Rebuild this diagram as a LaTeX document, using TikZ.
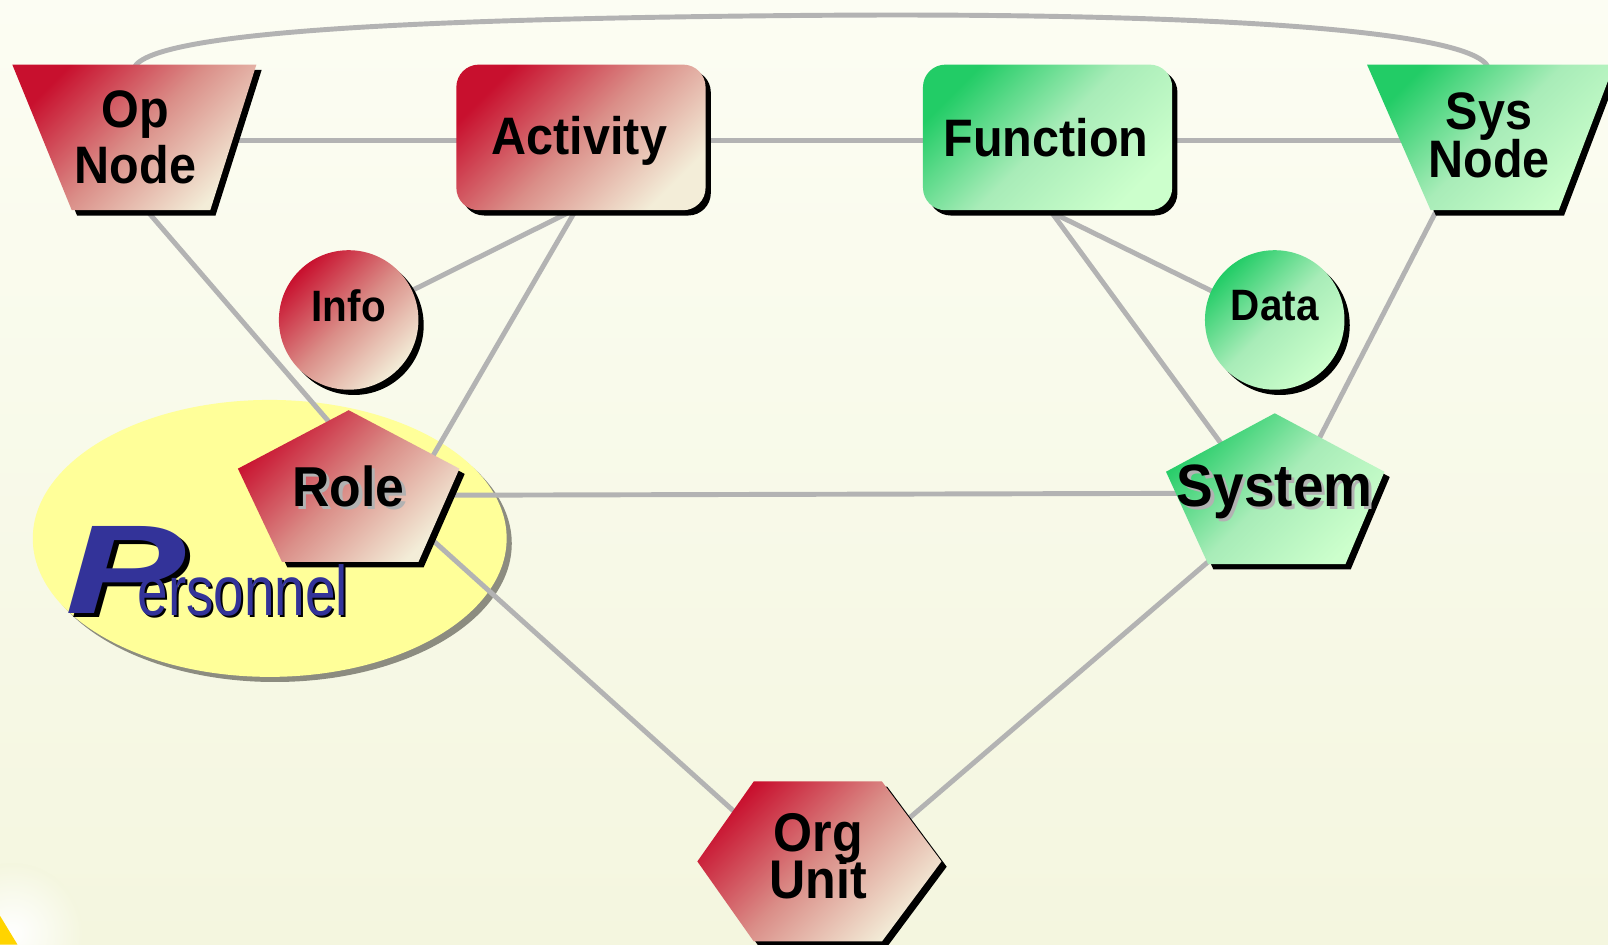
\documentclass[tikz,border=0pt]{standalone}
\usepackage{fontspec}
\setmainfont{Liberation Sans}
\newfontfamily\labfont[FakeStretch=0.92]{Liberation Sans}
\newfontfamily\persfont[FakeStretch=0.78]{Liberation Sans}
\usetikzlibrary{calc,shadows}
\pgfdeclarelayer{bg}
\pgfdeclarelayer{edges}
\pgfsetlayers{bg,edges,main}
\definecolor{bgTop}{HTML}{FCFDF3}
\definecolor{bgBot}{HTML}{F4F6DF}
\definecolor{redA}{HTML}{C8102E}
\definecolor{redB}{HTML}{DA8E88}
\definecolor{redC}{HTML}{F3EDD8}
\definecolor{grnA}{HTML}{22CC66}
\definecolor{grnB}{HTML}{A8ECB8}
\definecolor{grnC}{HTML}{CCFFCC}
\definecolor{edgegray}{HTML}{B3B3B3}
\definecolor{persyellow}{HTML}{FFFF99}
\definecolor{persshadow}{HTML}{8C8C80}
\definecolor{persblue}{HTML}{333399}
\definecolor{cornerYellow}{HTML}{FFD400}
\tikzset{
  px/.style={x=0.02051cm,y=-0.02051cm},
  edge/.style={draw=edgegray, line width=2.8pt},
  shadowed/.style={drop shadow={shadow xshift=3pt, shadow yshift=-3pt, fill=black, opacity=1}},
  redshape/.style={shadowed, top color=redA, bottom color=redC, middle color=redB, shading angle=45},
  grnshape/.style={shadowed, top color=grnA, bottom color=grnC, middle color=grnB, shading angle=45},
  lab/.style={inner sep=0pt, align=center, text=black},
  bigfont/.style={font=\labfont\bfseries\fontsize{30pt}{32pt}\selectfont},
  sysnodefont/.style={font=\labfont\bfseries\fontsize{30pt}{27.4pt}\selectfont},
  smallfont/.style={font=\labfont\bfseries\fontsize{25pt}{27pt}\selectfont},
  rolefont/.style={font=\labfont\bfseries\fontsize{32pt}{34pt}\selectfont},
  sysfont/.style={font=\labfont\bfseries\fontsize{34pt}{36pt}\selectfont},
  orgfont/.style={font=\labfont\bfseries\fontsize{31pt}{27pt}\selectfont},
  textshadow/.style={text=black!30},
  pfont/.style={font=\bfseries\itshape\fontsize{72pt}{72pt}\selectfont},
  efont/.style={font=\persfont\fontsize{40pt}{40pt}\selectfont},
}
\begin{document}
\lineskiplimit=-100pt\relax
\begin{tikzpicture}[px]
\useasboundingbox (0,0) rectangle (1568,921);
\begin{pgfonlayer}{bg}
  \shade[top color=bgTop,bottom color=bgBot] (0,0) rectangle (1568,921);
  \shade[inner color=white, outer color=bgBot] (12,910) circle [radius=1.4cm];
  \fill[cornerYellow] (0,893) -- (17,921) -- (0,921) -- cycle;
  \fill[persshadow] (268,530) ellipse [x radius=4.738cm, y radius=2.769cm];
  \fill[persyellow] (263,525) ellipse [x radius=4.738cm, y radius=2.769cm];
\end{pgfonlayer}

% shapes
\path[redshape] (12,63) -- (250,63) -- (205,205) -- (70,205) -- cycle;
\path[redshape, rounded corners=0.45cm] (445,63) rectangle (688,205);
\path[grnshape, rounded corners=0.45cm] (900,63) rectangle (1143,205);
\path[grnshape] (1333,63) -- (1574,63) -- (1520,205) -- (1395,205) -- cycle;
\path[redshape] (340,312) circle [radius=1.395cm];
\path[grnshape] (1243,312) circle [radius=1.395cm];
\path[redshape] (340,400) -- (448,457) -- (408,548) -- (275,548) -- (232,457) -- cycle;
\path[grnshape] (1243,403) -- (1350,460) -- (1312,550) -- (1178,550) -- (1137,460) -- cycle;
\path[redshape] (680,840) -- (735,762) -- (860,762) -- (918,840) -- (860,918) -- (735,918) -- cycle;

% labels
\node[lab, bigfont] (opnode) at (132,134) {Op\\Node};
\node[lab, bigfont] (activity) at (565,137) {Activity};
\node[lab, bigfont] (function) at (1020,134) {Function};
\node[lab, sysnodefont] (sysnode) at (1452,132) {Sys\\Node};
\node[lab, smallfont] (info) at (340,298) {Info};
\node[lab, smallfont] (data) at (1243,298) {Data};
\node[lab, rolefont, textshadow] (roleshadow) at (343,477) {Role};
\node[lab, rolefont] (role) at (340,474) {Role};
\node[lab, sysfont, textshadow] (systemshadow) at (1246,483) {System};
\node[lab, sysfont] (system) at (1243,480) {System};
\node[lab, orgfont] (orgunit) at (798,835) {Org\\Unit};

% Personnel logo
\node[anchor=base west, inner sep=0pt, text=black, pfont] (pshadow) at (68,602) {\scalebox{1.42}[1]{P}};
\node[anchor=base west, inner sep=0pt, text=persblue, pfont] (persP) at (64,598) {\scalebox{1.42}[1]{P}};
\node[anchor=base west, inner sep=0pt, text=black, efont] (eshadow) at (136,602) {ersonnel};
\node[anchor=base west, inner sep=0pt, text=persblue, efont] (persE) at (134,600) {ersonnel};

% connectors
\begin{pgfonlayer}{edges}
  \draw[edge] ($(opnode)+(0,3)$) -- (activity);
  \draw[edge] (activity) -- ($(function)+(0,3)$);
  \draw[edge] ($(function)+(0,3)$) -- ($(sysnode)+(0,5)$);
  \draw[edge] ($(opnode)+(4,63)$) -- ($(role)+(-10,-52)$);
  \draw[edge] ($(activity)+(10,60)$) -- ($(info)+(0,16)$);
  \draw[edge] ($(activity)+(1,60)$) -- ($(role)+(72,-12)$);
  \draw[edge] ($(role)+(60,9)$) -- ($(system)+(-60,1)$);
  \draw[edge] ($(role)+(60,33)$) -- ($(orgunit)+(-58,-22)$);
  \draw[edge] ($(function)+(-15,63)$) -- ($(data)+(0,16)$);
  \draw[edge] ($(function)+(-2,63)$) -- ($(system)+(-38,-28)$);
  \draw[edge] ($(sysnode)+(-47,65)$) -- ($(system)+(37,-40)$);
  \draw[edge] ($(system)+(-36,43)$) -- ($(orgunit)+(72,-23)$);
  \draw[edge] ($(opnode)+(-2,-64)$) .. controls (128,30) and (420,18) .. (790,15)
              .. controls (1160,12) and (1455,28) .. ($(sysnode)+(0,-62)$);
\end{pgfonlayer}
\end{tikzpicture}
\end{document}
